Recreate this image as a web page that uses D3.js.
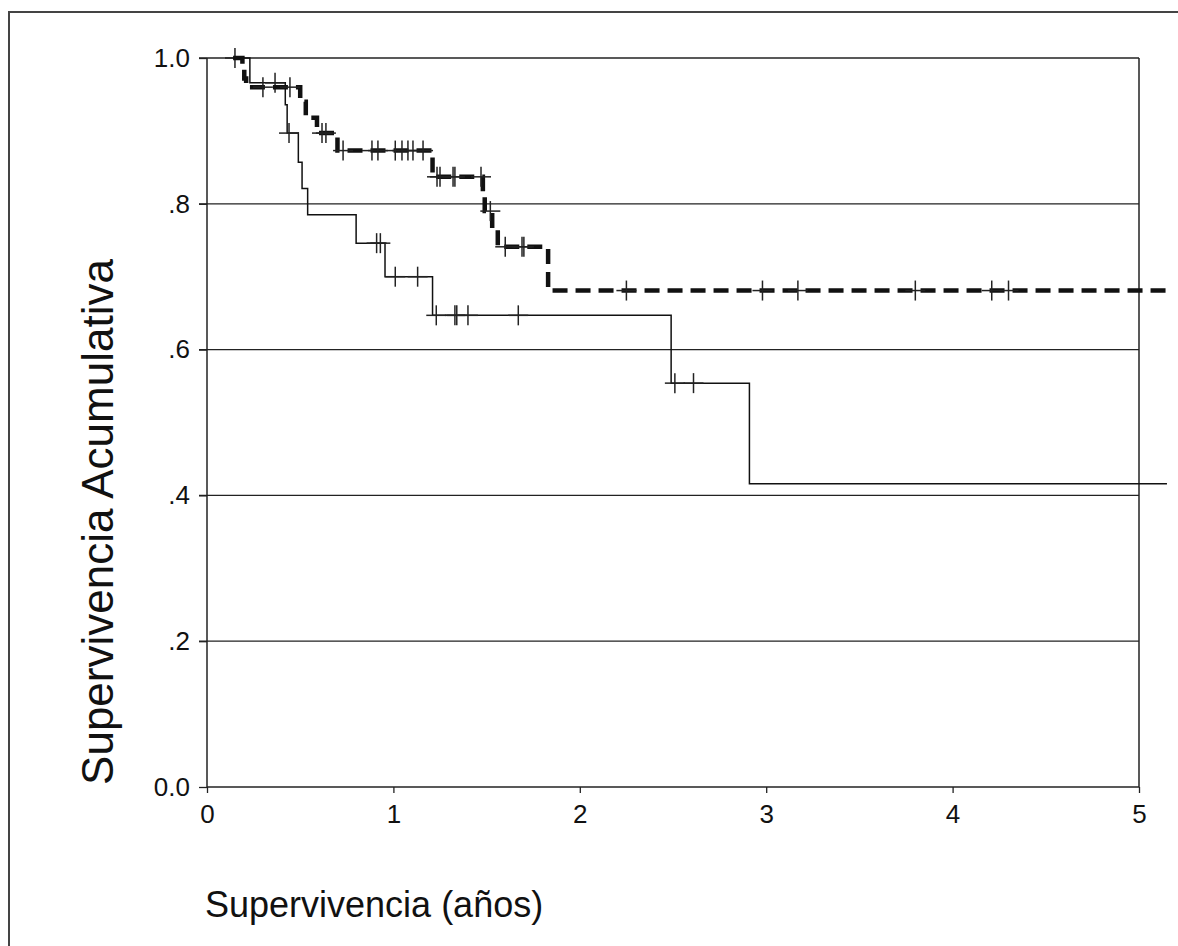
<!DOCTYPE html>
<html>
<head>
<meta charset="utf-8">
<script src="https://cdn.jsdelivr.net/npm/d3@7"></script>
<style>
    body { margin: 0; background: #fff; }
    svg { display: block; font-family: "Liberation Sans", Arial, sans-serif; }
</style>
</head>
<body>
<div id="chart"></div>
<script>
// group 1 (thin solid line): step times (years) and survival after each step
const g1Times = [0.14, 0.23, 0.42, 0.43, 0.49, 0.51, 0.54, 0.80, 0.955, 1.21, 2.49, 2.91, 5.15];
const g1Surv = [1.0, 0.966, 0.936, 0.897, 0.857, 0.821, 0.785, 0.746, 0.700, 0.647, 0.554, 0.416, 0.416];
const g1Censored = [0.15, 0.365, 0.44, 0.91, 0.93, 1.01, 1.13, 1.23, 1.33, 1.34, 1.40, 1.67, 2.51, 2.61];

// group 2 (thick dashed line)
const g2Times = [0.14, 0.19, 0.20, 0.21, 0.50, 0.53, 0.59, 0.70, 1.21, 1.48, 1.49, 1.53, 1.56, 1.83, 5.15];
const g2Surv = [1.0, 0.985, 0.972, 0.960, 0.940, 0.918, 0.897, 0.873, 0.837, 0.815, 0.790, 0.765, 0.741, 0.681, 0.681];
const g2Censored = [0.30, 0.445, 0.617, 0.638, 0.73, 0.885, 0.917, 1.01, 1.046, 1.078, 1.105, 1.159,
    1.234, 1.25, 1.32, 1.33, 1.47, 1.52, 1.60, 1.69, 1.70, 2.25, 2.98, 3.17, 3.80, 4.21, 4.30];

const xTicks = [0, 1, 2, 3, 4, 5];
const yTicks = [0, 0.2, 0.4, 0.6, 0.8, 1.0];
const yTickLabels = ["0.0", ".2", ".4", ".6", ".8", "1.0"];

const width = 1178, height = 946;
const margin = {top: 58, left: 207, right: 39, bottom: 159};
const w = width - margin.left - margin.right,
    h = height - margin.top - margin.bottom;

const svg = d3.select("#chart")
    .append("svg")
    .attr("width", width)
    .attr("height", height);

svg.append("rect").attr("width", width).attr("height", height).attr("fill", "#fff");

// outer frame (only top and left edges are visible in the picture)
svg.append("rect")
    .attr("x", 9).attr("y", 12)
    .attr("width", width + 20).attr("height", height + 20)
    .attr("fill", "none")
    .attr("stroke", "#444")
    .attr("stroke-width", 2);

const g = svg.append("g")
    .attr("transform", `translate(${margin.left},${margin.top})`);

const x = d3.scaleLinear().domain([0, 5]).range([0, w]);
const y = d3.scaleLinear().domain([0, 1]).range([h, 0]);

// horizontal grid lines, starting 8px left of the axis
g.append("g")
    .selectAll("line")
    .data(yTicks.filter(d => d > 0))
    .join("line")
    .attr("x1", -8)
    .attr("x2", w)
    .attr("y1", d => y(d))
    .attr("y2", d => y(d))
    .attr("stroke", "#222")
    .attr("stroke-width", 1.3);

// right edge of the plot frame
g.append("line")
    .attr("x1", w).attr("x2", w)
    .attr("y1", 0).attr("y2", h)
    .attr("stroke", "#222")
    .attr("stroke-width", 1.5);

const yAxis = g.append("g")
    .call(d3.axisLeft(y).tickValues(yTicks).tickFormat((d, i) => yTickLabels[i]).tickSize(8).tickPadding(9));

const xAxis = g.append("g")
    .attr("transform", `translate(0,${h})`)
    .call(d3.axisBottom(x).tickValues(xTicks).tickFormat(d3.format("d")).tickSize(6).tickPadding(12));

for (let ax of [xAxis, yAxis]) {
    ax.select(".domain").attr("stroke", "#222").attr("stroke-width", 1.5);
    ax.selectAll(".tick line").attr("stroke", "#222").attr("stroke-width", 1.3);
    ax.selectAll(".tick text")
        .attr("fill", "#111")
        .style("font-size", "26px")
        .style("font-family", "'Liberation Sans', Arial, sans-serif");
}
yAxis.select(".domain").attr("d", `M0,${h}V0`);
xAxis.select(".domain").attr("d", `M0,0H${w}`);

const stepLine = d3.line()
    .x(d => x(d[0]))
    .y(d => y(d[1]))
    .curve(d3.curveStepAfter);

function survivalAt(times, surv, t) {
    let i = d3.bisectRight(times, t) - 1;
    return surv[Math.max(i, 0)];
}

function drawGroup(times, surv, censored, style) {
    let pts = times.map((t, i) => [t, surv[i]]);
    g.append("path")
        .datum(pts)
        .attr("d", stepLine)
        .attr("fill", "none")
        .attr("stroke", "#111")
        .attr("stroke-width", style.width)
        .attr("stroke-dasharray", style.dash);

    let marks = g.append("g")
        .selectAll("g")
        .data(censored)
        .join("g")
        .attr("transform", t => `translate(${x(t)},${y(survivalAt(times, surv, t))})`);
    marks.append("line")
        .attr("x1", -10).attr("x2", 10)
        .attr("stroke", "#222").attr("stroke-width", 1.5);
    marks.append("line")
        .attr("y1", -10).attr("y2", 10)
        .attr("stroke", "#222").attr("stroke-width", 1.5);
}

drawGroup(g1Times, g1Surv, g1Censored, {width: 1.5, dash: null});
drawGroup(g2Times, g2Surv, g2Censored, {width: 4.5, dash: "15,8"});

// axis titles
svg.append("text")
    .attr("transform", "translate(113,522) rotate(-90)")
    .attr("text-anchor", "middle")
    .style("font-size", "44px")
    .attr("fill", "#111")
    .text("Supervivencia Acumulativa");

svg.append("text")
    .attr("x", 205)
    .attr("y", 917)
    .style("font-size", "36px")
    .attr("fill", "#111")
    .text("Supervivencia (años)");
</script>
</body>
</html>
